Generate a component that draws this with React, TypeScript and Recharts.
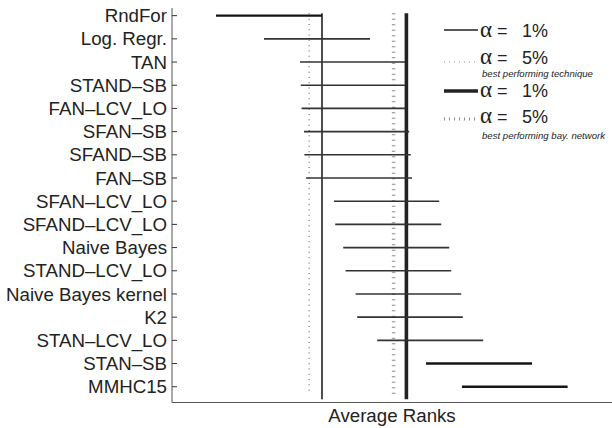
import { ComposedChart, XAxis, YAxis, ReferenceLine } from 'recharts'

// methods, top to bottom
const methods = [
  'RndFor',
  'Log. Regr.',
  'TAN',
  'STAND\u2013SB',
  'FAN\u2013LCV_LO',
  'SFAN\u2013SB',
  'SFAND\u2013SB',
  'FAN\u2013SB',
  'SFAN\u2013LCV_LO',
  'SFAND\u2013LCV_LO',
  'Naive Bayes',
  'STAND\u2013LCV_LO',
  'Naive Bayes kernel',
  'K2',
  'STAN\u2013LCV_LO',
  'STAN\u2013SB',
  'MMHC15',
]

// interval ends (average rank)
const lows = [3.1, 4.3, 5.2, 5.22, 5.24, 5.3, 5.31, 5.35, 6.05, 6.08, 6.28, 6.34, 6.59, 6.63, 7.13, 8.35, 9.25]
const highs = [5.75, 6.95, 7.83, 7.83, 7.84, 7.93, 7.97, 8.0, 8.68, 8.73, 8.93, 8.98, 9.23, 9.27, 9.78, 11.0, 11.89]
// drawn heavier
const strong = ['RndFor', 'STAN\u2013SB', 'MMHC15']

// critical bounds
const bestTech1 = 5.75
const bestTech5 = 5.43
const bestBay1 = 7.86
const bestBay5 = 7.54

const xRange = [2, 13]
const yRange = [0.67, 17.68]

const font = '"Liberation Sans", Arial, Helvetica, sans-serif'
const serif = '"Liberation Serif", "Times New Roman", serif'

const rows = methods.map((m, i) => ({ name: m, pos: i + 1, low: lows[i], high: highs[i] }))
const positions = rows.map((r) => r.pos)

export default function App() {
  return (
    <div style={{ position: 'fixed', left: 0, top: 0, width: 612, height: 428, background: '#fff' }}>
      <ComposedChart width={612} height={428} data={rows} margin={{ top: 8, right: 0, bottom: 0, left: 0 }}>
        <XAxis
          xAxisId="b"
          dataKey="low"
          type="number"
          domain={xRange}
          allowDataOverflow
          tick={false}
          tickLine={false}
          height={25.5}
          axisLine={{ stroke: '#555' }}
          label={{ value: 'Average Ranks', position: 'insideBottom', offset: 6, fill: '#222', fontSize: 18.7, fontFamily: font }}
        />
        <XAxis
          xAxisId="t"
          dataKey="low"
          orientation="top"
          type="number"
          domain={xRange}
          allowDataOverflow
          tick={false}
          tickLine={false}
          height={0}
          axisLine={{ stroke: '#555' }}
        />
        <YAxis
          yAxisId="l"
          type="number"
          dataKey="pos"
          domain={yRange}
          reversed
          allowDataOverflow
          ticks={positions}
          interval={0}
          tickFormatter={(v: number) => methods[v - 1] ?? ''}
          width={172}
          tickSize={-5}
          tickMargin={10}
          axisLine={{ stroke: '#555' }}
          tickLine={{ stroke: '#333' }}
          tick={{ fill: '#222', fontSize: 18.7, fontFamily: font }}
        />
        <YAxis
          yAxisId="r"
          dataKey="pos"
          orientation="right"
          type="number"
          domain={yRange}
          reversed
          allowDataOverflow
          ticks={positions}
          interval={0}
          tickFormatter={() => ''}
          width={0}
          tickSize={-4}
          axisLine={false}
          tickLine={{ stroke: '#333' }}
        />

        <ReferenceLine xAxisId="b" yAxisId="l" segment={[{ x: bestTech5, y: 0.9 }, { x: bestTech5, y: 17.36 }]} stroke="#8a8a8a" strokeWidth={1.5} strokeDasharray="1 4.3" />
        <ReferenceLine xAxisId="b" yAxisId="l" segment={[{ x: bestBay5, y: 0.9 }, { x: bestBay5, y: 17.36 }]} stroke="#8a8a8a" strokeWidth={3.5} strokeDasharray="1 4.5" />
        <ReferenceLine xAxisId="b" yAxisId="l" segment={[{ x: bestTech1, y: 0.9 }, { x: bestTech1, y: 17.54 }]} stroke="#222" strokeWidth={1.6} />
        <ReferenceLine xAxisId="b" yAxisId="l" segment={[{ x: bestBay1, y: 0.9 }, { x: bestBay1, y: 17.54 }]} stroke="#222" strokeWidth={3.6} />

        {rows.map((r) => {
          const heavy = strong.includes(r.name)
          return (
            <ReferenceLine
              key={r.name}
              xAxisId="b"
              yAxisId="l"
              segment={[{ x: r.low, y: r.pos }, { x: r.high, y: r.pos }]}
              stroke={heavy ? '#151515' : '#333'}
              strokeWidth={heavy ? 2.4 : 1.6}
            />
          )
        })}
      </ComposedChart>

      <svg width={612} height={428} style={{ position: 'absolute', left: 0, top: 0, pointerEvents: 'none' }}>
        <g fontFamily={font} fill="#222">
          <line x1={444} x2={478} y1={30} y2={30} stroke="#222" strokeWidth={1.6} />
          <text x={480} y={36.5} fontFamily={serif} fontSize={23}>α</text>
          <text x={497} y={36.5} fontSize={18}>=</text>
          <text x={522} y={36.5} fontSize={18}>1%</text>

          <line x1={444} x2={478} y1={62} y2={62} stroke="#8a8a8a" strokeWidth={1.2} strokeDasharray="1 4" />
          <text x={480} y={64} fontFamily={serif} fontSize={23}>α</text>
          <text x={497} y={64} fontSize={18}>=</text>
          <text x={522} y={64} fontSize={18}>5%</text>
          <text x={482} y={76.5} fontSize={9.6} fontStyle="italic">best performing technique</text>

          <line x1={444} x2={478} y1={91} y2={91} stroke="#222" strokeWidth={3.4} />
          <text x={480} y={96.5} fontFamily={serif} fontSize={23}>α</text>
          <text x={497} y={96.5} fontSize={18}>=</text>
          <text x={522} y={96.5} fontSize={18}>1%</text>

          <line x1={444} x2={478} y1={119} y2={119} stroke="#8a8a8a" strokeWidth={3} strokeDasharray="1 4" />
          <text x={480} y={123} fontFamily={serif} fontSize={23}>α</text>
          <text x={497} y={123} fontSize={18}>=</text>
          <text x={522} y={123} fontSize={18}>5%</text>
          <text x={482} y={138.5} fontSize={9.6} fontStyle="italic">best performing bay. network</text>
        </g>
      </svg>
    </div>
  )
}
